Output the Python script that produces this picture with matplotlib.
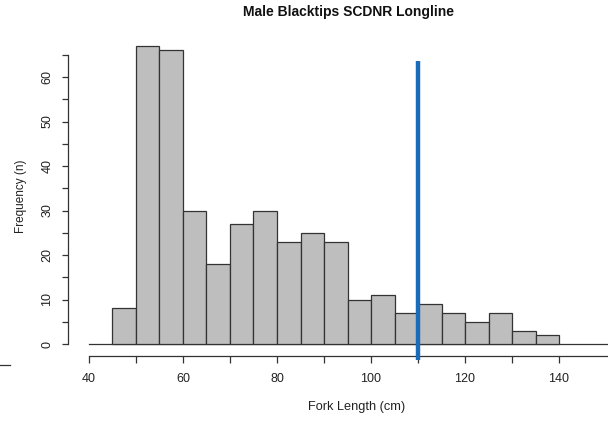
import matplotlib.pyplot as plt
import numpy as np

plt.rcParams['font.family'] = ['Liberation Sans', 'DejaVu Sans']

# fork length bins (cm) and counts per bin
bin_edges = [45, 50, 55, 60, 65, 70, 75, 80, 85, 90, 95, 100,
             105, 110, 115, 120, 125, 130, 135, 140]
counts = [8, 67, 66, 30, 18, 27, 30, 23, 25, 23, 10, 11, 7, 9, 7, 5, 7, 3, 2]
cutoff = 110  # reference length marked on the plot

fig = plt.figure(figsize=(6.08, 4.21), dpi=100)
W, H = 608, 421
# axes box in pixels: left 68, right 608, top 40, bottom 366
ax = fig.add_axes([68 / W, 1 - 366 / H, (608 - 68) / W, (366 - 40) / H])

px_x = 4.7    # pixels per cm
px_y = 4.45   # pixels per count
ax.set_xlim(40 - (89 - 68) / px_x, 40 + (608 - 89) / px_x)
ax.set_ylim((344 - 366) / px_y, (344 - 40) / px_y)

edges = np.array(bin_edges)
ax.bar(edges[:-1], counts, width=np.diff(edges), align='edge',
       color='#bebebe', edgecolor='#333333', linewidth=0.9, zorder=2)

# baseline at zero
ax.plot([40, 160], [0, 0], color='#333333', lw=0.9, zorder=1, clip_on=True)

# vertical marker
ax.plot([cutoff, cutoff], [-3.6, 63.5], color='#1a6cb8', lw=3.2,
        solid_capstyle='butt', clip_on=False, zorder=3)

for s in ['top', 'right']:
    ax.spines[s].set_visible(False)
ax.spines['left'].set_bounds(0, 65)
ax.spines['bottom'].set_position(('data', (344 - 356) / px_y))
ax.spines['bottom'].set_bounds(40, 160)
for s in ['left', 'bottom']:
    ax.spines[s].set_color('#333333')
    ax.spines[s].set_linewidth(0.9)

ax.set_xticks(np.arange(40, 141, 10), minor=True)
ax.set_xticks(np.arange(40, 141, 20))
ax.set_yticks(np.arange(0, 66, 5), minor=True)
ax.set_yticks(np.arange(0, 61, 10))
ax.tick_params(axis='both', which='both', width=0.9,
               color='#333333', labelsize=9, labelcolor='#222222')
ax.tick_params(axis='x', which='both', length=5, pad=7)
ax.tick_params(axis='y', which='both', length=4.5, pad=6)
for lab in ax.get_yticklabels():
    lab.set_rotation(90)
    lab.set_va('center')

ax.set_xlabel('Fork Length (cm)', fontsize=9.2, color='#222222')
ax.xaxis.set_label_coords((357 - 68) / (608 - 68), (366 - 407) / (366 - 40))
ax.xaxis.label.set_va('center')
ax.set_ylabel('Frequency (n)', fontsize=8.5, color='#222222')
ax.yaxis.set_label_coords((21 - 68) / (608 - 68), (366 - 196) / (366 - 40))
ax.yaxis.label.set_va('center')

fig.text(348.5 / W, 1 - 12 / H, 'Male Blacktips SCDNR Longline',
         ha='center', va='center', fontsize=10, fontweight='bold',
         color='#111111')

# small stray tick at the far left
fig.add_artist(plt.Line2D([0, 10 / W], [1 - 365 / H, 1 - 365 / H],
                          color='#333333', lw=0.9))

fig.savefig('out.png', dpi=100)
